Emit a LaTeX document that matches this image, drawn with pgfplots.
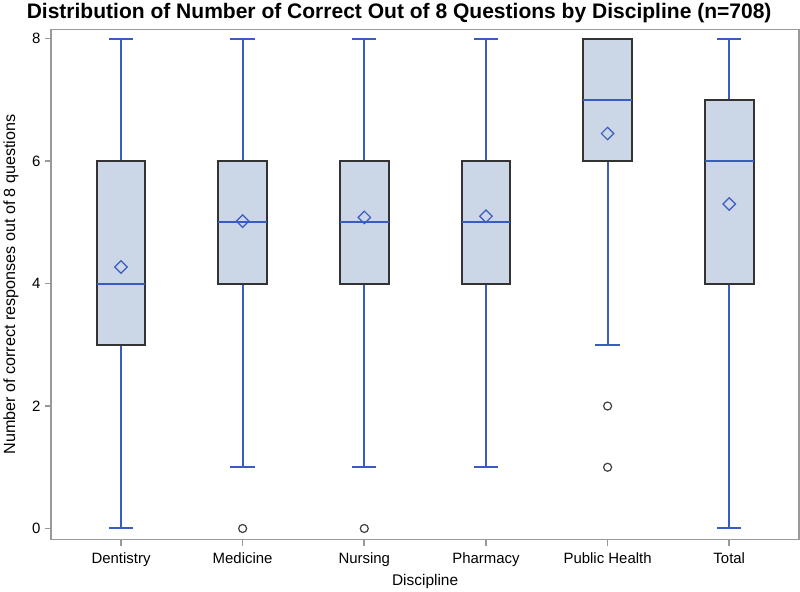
\documentclass[border=0pt]{standalone}
\usepackage{pgfplots}
\pgfplotsset{compat=1.18}
\usepgfplotslibrary{statistics}
\usepackage{fontspec}
\setmainfont{Liberation Sans}
\definecolor{boxfill}{HTML}{CBD6E6}
\definecolor{sasblue}{HTML}{3A5BBF}
\begin{document}
\begin{tikzpicture}
\begin{axis}[
  scale only axis, width=748bp, height=510bp,
  xmin=-0.575, xmax=5.575, ymin=-0.18, ymax=8.15,
  xtick={0,1,2,3,4,5},
  xticklabels={Dentistry,Medicine,Nursing,Pharmacy,Public Health,Total},
  ytick={0,2,4,6,8},
  tick align=outside, tick pos=left, major tick length=6bp,
  axis line style={black!40, line width=1.6bp},
  every tick/.style={black!40, line width=1.6bp},
  ticklabel style={font=\fontsize{15}{18}\selectfont},
  xticklabel style={yshift=-4bp},
  yticklabel style={xshift=-1bp},
  /pgf/number format/assume math mode=true,
  xlabel={Discipline},
  ylabel={Number of correct responses out of 8 questions},
  xlabel style={font=\fontsize{15.5}{18}\selectfont},
  ylabel style={font=\fontsize{16.2}{19}\selectfont, yshift=7bp},
  title={Distribution of Number of Correct Out of 8 Questions by Discipline (n=708)},
  title style={font=\bfseries\fontsize{21.1}{24}\selectfont, at={(0.5,1)}, anchor=south, yshift=-3bp, xshift=-26bp},
  boxplot/draw direction=y,
  boxplot/box extend=0.4,
  boxplot/whisker extend=0.2,
  boxplot/every box/.style={draw=black!80, fill=boxfill, line width=2bp},
  boxplot/every whisker/.style={draw=sasblue, line width=2bp},
  boxplot/every median/.style={draw=sasblue, line width=2bp},
]
\addplot[sasblue, boxplot prepared={draw position=0, lower whisker=0, lower quartile=3, median=4, upper quartile=6, upper whisker=8}] coordinates {};
\addplot[sasblue, boxplot prepared={draw position=1, lower whisker=1, lower quartile=4, median=5, upper quartile=6, upper whisker=8}] coordinates {};
\addplot[sasblue, boxplot prepared={draw position=2, lower whisker=1, lower quartile=4, median=5, upper quartile=6, upper whisker=8}] coordinates {};
\addplot[sasblue, boxplot prepared={draw position=3, lower whisker=1, lower quartile=4, median=5, upper quartile=6, upper whisker=8}] coordinates {};
\addplot[sasblue, boxplot prepared={draw position=4, lower whisker=3, lower quartile=6, median=7, upper quartile=8, upper whisker=8}] coordinates {};
\addplot[sasblue, boxplot prepared={draw position=5, lower whisker=0, lower quartile=4, median=6, upper quartile=7, upper whisker=8}] coordinates {};
% means
\addplot[only marks, mark=square, mark size=4.4bp, mark options={rotate=45, draw=sasblue, fill=none, line width=1.2bp}] coordinates {(0,4.27) (1,5.02) (2,5.08) (3,5.10) (4,6.45) (5,5.30)};
% outliers
\addplot[only marks, mark=o, mark size=4bp, mark options={draw=black!75, line width=1.2bp}] coordinates {(1,0) (2,0) (4,2) (4,1)};
\end{axis}
\end{tikzpicture}
\end{document}
